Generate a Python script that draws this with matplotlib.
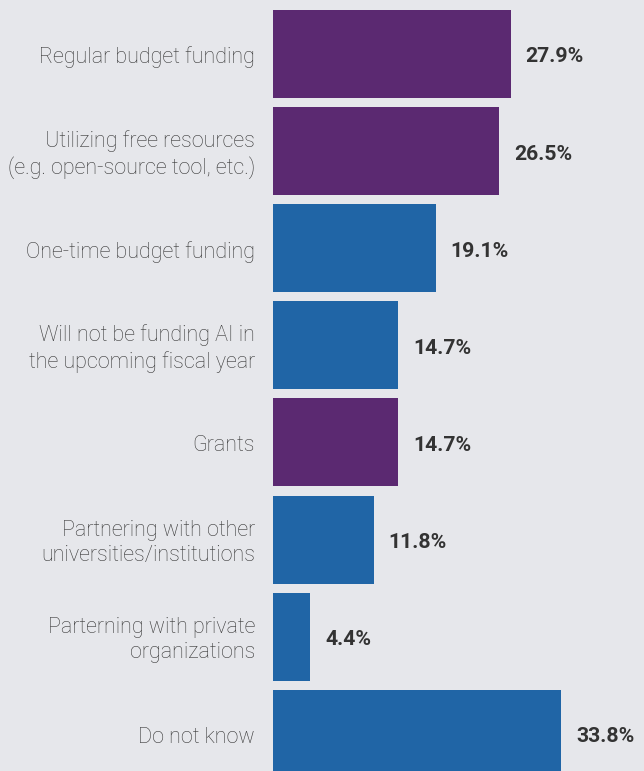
import matplotlib
matplotlib.use("Agg")
import matplotlib.pyplot as plt

# Funding sources for AI in the upcoming fiscal year
categories = [
    "Regular budget funding",
    "Utilizing free resources\n(e.g. open-source tool, etc.)",
    "One-time budget funding",
    "Will not be funding AI in\nthe upcoming fiscal year",
    "Grants",
    "Partnering with other\nuniversities/institutions",
    "Parterning with private\norganizations",
    "Do not know",
]
values = [27.9, 26.5, 19.1, 14.7, 14.7, 11.8, 4.4, 33.8]
value_labels = ["27.9%", "26.5%", "19.1%", "14.7%", "14.7%", "11.8%", "4.4%", "33.8%"]
groups = ["purple", "purple", "blue", "blue", "purple", "blue", "blue", "blue"]

palette = {"purple": "#5B2971", "blue": "#2065A6"}
bg = "#E6E7EB"

W, H, DPI = 644, 771, 100
fig = plt.figure(figsize=(W / DPI, H / DPI), dpi=DPI, facecolor=bg)

left_px = 273
px_per_unit = 8.52
pitch_px = 97.1
first_center_px = 54

ax = fig.add_axes([left_px / W, 0, 1 - left_px / W, 1])
ax.set_facecolor(bg)
ax.set_xlim(0, (W - left_px) / px_per_unit)
ax.set_ylim((H - first_center_px) / pitch_px, -first_center_px / pitch_px)

ypos = list(range(len(values)))
ax.barh(ypos, values, height=88 / pitch_px,
        color=[palette[g] for g in groups], linewidth=0)

for y, v, lab in zip(ypos, values, value_labels):
    ax.annotate(lab, (v, y), xytext=(15, -3), textcoords="offset pixels",
                ha="left", va="center", fontsize=15.3, fontweight="bold",
                family="Roboto", color="#333333")

for y, cat in zip(ypos, categories):
    ax.annotate(cat, (0, y), xytext=(-18, -3.5), textcoords="offset pixels",
                ha="right", va="center", fontsize=15.5, fontweight="light",
                family="Roboto", color="#383838", linespacing=1.28,
                multialignment="right", annotation_clip=False)

for s in ax.spines.values():
    s.set_visible(False)
ax.set_xticks([])
ax.set_yticks([])

fig.savefig("out.png", dpi=DPI, facecolor=bg)
